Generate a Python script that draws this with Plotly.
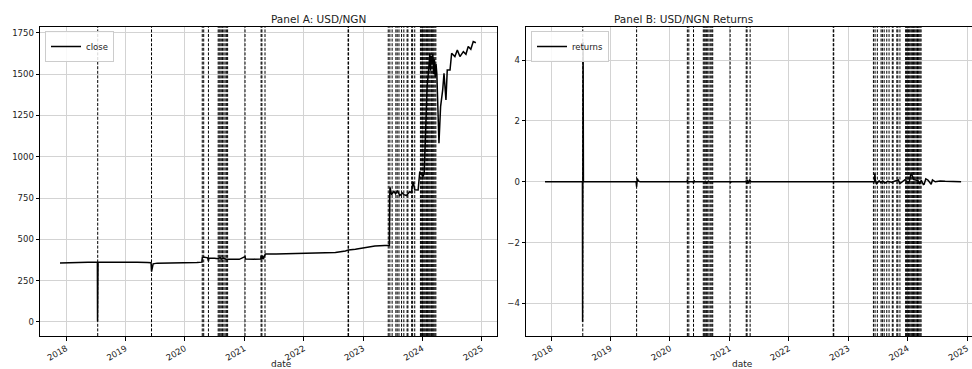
import plotly.graph_objects as go

# ---------------- data ----------------
close_dates = [
    "2017-11-24", "2018-01-15", "2018-03-15", "2018-05-15", "2018-07-12", "2018-07-13", "2018-07-16",
    "2018-09-15", "2018-11-15", "2019-01-15", "2019-03-15", "2019-05-15", "2019-06-07", "2019-06-10",
    "2019-06-14", "2019-06-20", "2019-07-15", "2019-09-15", "2019-12-15", "2020-03-15", "2020-04-15",
    "2020-04-17", "2020-04-25", "2020-05-20", "2020-05-25", "2020-05-28", "2020-07-01", "2020-07-25",
    "2020-08-05", "2020-08-12", "2020-08-25", "2020-09-10", "2020-10-15", "2020-12-01", "2021-01-05",
    "2021-01-08", "2021-03-01", "2021-04-12", "2021-04-14", "2021-04-18", "2021-04-22", "2021-04-28",
    "2021-05-05", "2021-05-10", "2021-07-15", "2021-10-15", "2022-01-15", "2022-04-15", "2022-07-15",
    "2022-09-15", "2022-10-03", "2022-11-15", "2023-01-15", "2023-03-15", "2023-05-15", "2023-06-12",
    "2023-06-14", "2023-06-16", "2023-06-25", "2023-07-10", "2023-07-20", "2023-08-01", "2023-08-15",
    "2023-09-01", "2023-09-10", "2023-09-25", "2023-10-16", "2023-10-25", "2023-11-05", "2023-11-15",
    "2023-12-06", "2023-12-16", "2024-01-05", "2024-01-12", "2024-01-22", "2024-01-30", "2024-02-08",
    "2024-02-16", "2024-02-20", "2024-02-25", "2024-03-01", "2024-03-05", "2024-03-10", "2024-03-15",
    "2024-03-20", "2024-03-25", "2024-03-30", "2024-04-07", "2024-04-12", "2024-04-22", "2024-05-05",
    "2024-05-13", "2024-05-25", "2024-06-02", "2024-06-19", "2024-06-29", "2024-07-19", "2024-08-03",
    "2024-08-19", "2024-09-09", "2024-09-25", "2024-10-09", "2024-10-25", "2024-11-09", "2024-11-25",
]
close_values = [
    357, 359, 360, 361, 361, 3.6, 361,
    362, 363, 364, 362, 360, 358, 305,
    340, 352, 356, 356, 357, 360, 362,
    388, 393, 388, 368, 386, 386, 382,
    390, 380, 386, 380, 380, 379, 395,
    381, 380, 381, 400, 378, 402, 380,
    400, 411, 411, 413, 414, 416, 420,
    430, 436, 440, 448, 460, 462, 463,
    760, 815, 770, 790, 775, 795, 765,
    780, 770, 765, 789, 780, 849, 800,
    799, 910, 880, 900, 1180, 1424, 1520,
    1626, 1520, 1610, 1560, 1620, 1500, 1590,
    1480, 1560, 1500, 1243, 1082, 1303, 1404,
    1505, 1344, 1525, 1525, 1626, 1606, 1646,
    1606, 1636, 1620, 1667, 1650, 1697, 1690,
]

returns_dates = [
    "2017-11-24", "2018-07-12", "2018-07-13", "2018-07-16", "2018-07-18", "2019-06-07", "2019-06-10",
    "2019-06-14", "2019-06-20", "2019-07-01", "2020-04-16", "2020-04-17", "2020-04-20", "2020-05-22",
    "2020-05-25", "2020-05-28", "2020-06-01", "2020-08-04", "2020-08-05", "2020-08-12", "2020-08-25",
    "2020-08-28", "2021-01-04", "2021-01-05", "2021-01-08", "2021-01-10", "2021-04-12", "2021-04-14",
    "2021-04-18", "2021-04-22", "2021-04-28", "2021-05-05", "2021-05-10", "2021-05-12", "2022-10-02",
    "2022-10-03", "2022-10-05", "2023-06-12", "2023-06-14", "2023-06-16", "2023-06-25", "2023-07-10",
    "2023-07-20", "2023-08-01", "2023-08-15", "2023-09-01", "2023-09-25", "2023-10-16", "2023-11-05",
    "2023-11-15", "2023-12-16", "2024-01-05", "2024-01-12", "2024-01-22", "2024-01-30", "2024-02-08",
    "2024-02-16", "2024-02-25", "2024-03-05", "2024-03-15", "2024-03-25", "2024-04-07", "2024-04-12",
    "2024-04-22", "2024-05-05", "2024-05-25", "2024-06-02", "2024-06-19", "2024-07-19", "2024-08-19",
    "2024-09-09", "2024-10-09", "2024-11-25",
]
returns_values = [
    0.0, 0.0, -4.6, 4.6, 0.0, 0.0, -0.16,
    0.11, 0.03, 0.0, 0.0, 0.07, 0.0, 0.0,
    -0.05, 0.05, 0.0, 0.0, 0.03, -0.03, 0.02,
    0.0, 0.0, 0.03, -0.03, 0.0, 0.0, 0.05,
    -0.06, 0.06, -0.06, 0.05, 0.03, 0.0, 0.0,
    0.02, 0.0, 0.0, 0.28, 0.07, -0.06, 0.03,
    -0.02, 0.03, -0.04, 0.02, -0.01, 0.03, 0.06,
    -0.06, 0.07, -0.03, 0.02, 0.27, 0.2, 0.07,
    0.06, 0.05, 0.04, -0.07, 0.05, -0.09, -0.08,
    0.1, 0.06, -0.08, 0.06, 0.0, 0.03, 0.02,
    0.02, 0.02, 0.0,
]

break_dates = [
    "2018-07-14", "2019-06-10", "2020-04-17", "2020-04-26", "2020-05-25",
    "2020-07-24", "2020-07-30", "2020-08-05", "2020-08-12", "2020-08-20", "2020-08-28",
    "2020-09-05", "2020-09-14", "2020-09-20",
    "2021-01-05", "2021-04-14", "2021-04-19", "2021-05-08",
    "2022-10-01", "2022-10-04",
    "2023-06-05", "2023-06-15", "2023-06-29", "2023-07-22", "2023-07-30", "2023-08-10",
    "2023-08-26", "2023-09-09", "2023-09-29", "2023-10-04", "2023-10-27", "2023-11-02",
    "2023-11-15",
    "2023-12-20", "2023-12-24", "2023-12-28", "2024-01-02", "2024-01-06", "2024-01-11",
    "2024-01-16", "2024-01-22", "2024-01-27", "2024-02-01", "2024-02-06", "2024-02-11",
    "2024-02-16", "2024-02-22", "2024-02-27", "2024-03-02", "2024-03-07", "2024-03-12",
    "2024-03-18", "2024-03-24",
]

year_ticks = ["2018", "2019", "2020", "2021", "2022", "2023", "2024", "2025"]

# ---------------- figure ----------------
FONT = "DejaVu Sans"
W, H = 972, 369
domA = [40 / W, 497 / W]
domB = [526 / W, 1.0]
ydom = [1 - 336 / H, 1 - 27 / H]

fig = go.Figure()
fig.add_trace(go.Scatter(x=close_dates, y=close_values, mode="lines", name="close",
                         line=dict(color="black", width=1.5), xaxis="x", yaxis="y",
                         legend="legend"))
fig.add_trace(go.Scatter(x=returns_dates, y=returns_values, mode="lines", name="returns",
                         line=dict(color="black", width=1.5), xaxis="x2", yaxis="y2",
                         legend="legend2"))

shapes = []
for xr, yr in (("x", "y domain"), ("x2", "y2 domain")):
    for d in break_dates:
        shapes.append(dict(type="line", xref=xr, yref=yr, x0=d, x1=d, y0=0, y1=1,
                           line=dict(color="black", width=1, dash="3px,1.6px"), layer="above"))

tickvals = [f"{y}-01-01" for y in year_ticks]
common_x = dict(tickvals=tickvals, ticktext=year_ticks, tickangle=-30,
                showgrid=True, gridcolor="#d3d3d3", gridwidth=1,
                showline=True, linecolor="black", linewidth=1, mirror=True,
                ticks="outside", ticklen=3.5, tickwidth=0.8, tickcolor="black",
                tickfont=dict(family=FONT, size=8.5, color="#222"), zeroline=False)
common_y = dict(showgrid=True, gridcolor="#d3d3d3", gridwidth=1,
                showline=True, linecolor="black", linewidth=1,
                ticks="outside", ticklen=3.5, tickwidth=0.8, tickcolor="black",
                tickfont=dict(family=FONT, size=8.5, color="#222"), zeroline=False)

fig.update_layout(
    width=W, height=H, margin=dict(l=0, r=0, t=0, b=0),
    paper_bgcolor="white", plot_bgcolor="white",
    font=dict(family=FONT, size=9, color="#222"),
    xaxis=dict(domain=domA, anchor="y", range=["2017-07-24", "2025-04-04"], **common_x),
    yaxis=dict(domain=ydom, anchor="x", range=[-85, 1785], tickvals=[0, 250, 500, 750, 1000, 1250, 1500, 1750],
               mirror=True, **common_y),
    xaxis2=dict(domain=domB, anchor="y2", range=["2017-07-30", "2025-01-31"], **common_x),
    yaxis2=dict(domain=ydom, anchor="x2", range=[-5.07, 5.09], tickvals=[-4, -2, 0, 2, 4],
                mirror=False, **common_y),
    shapes=shapes,
    legend=dict(x=45 / W, y=1 - 31 / H, xanchor="left", yanchor="top", bgcolor="rgba(255,255,255,0.85)",
                bordercolor="#cccccc", borderwidth=1, itemwidth=30,
                font=dict(family=FONT, size=8.5, color="#222"), tracegroupgap=0),
    legend2=dict(x=531 / W, y=1 - 31 / H, xanchor="left", yanchor="top", bgcolor="rgba(255,255,255,0.85)",
                 bordercolor="#cccccc", borderwidth=1, itemwidth=30,
                 font=dict(family=FONT, size=8.5, color="#222"), tracegroupgap=0),
    annotations=[
        dict(text="Panel A: USD/NGN", x=(40 + 497) / 2 / W, y=1 - 19 / H, xref="paper", yref="paper",
             yanchor="middle", showarrow=False, font=dict(family=FONT, size=10.5, color="#222")),
        dict(text="Panel B: USD/NGN Returns", x=(526 + 983) / 2 / W, y=1 - 19 / H, xref="paper", yref="paper",
             yanchor="middle", showarrow=False, font=dict(family=FONT, size=10.5, color="#222")),
        dict(text="date", x=(40 + 497) / 2 / W, y=1 - 357 / H, xref="paper", yref="paper",
             yanchor="top", showarrow=False, font=dict(family=FONT, size=9, color="#222")),
        dict(text="date", x=(526 + 983) / 2 / W, y=1 - 357 / H, xref="paper", yref="paper",
             yanchor="top", showarrow=False, font=dict(family=FONT, size=9, color="#222")),
    ],
    showlegend=True,
)

fig.write_html("out.html", config={"displayModeBar": False},
               post_script="document.body.style.margin='0';document.body.style.overflow='hidden';")
